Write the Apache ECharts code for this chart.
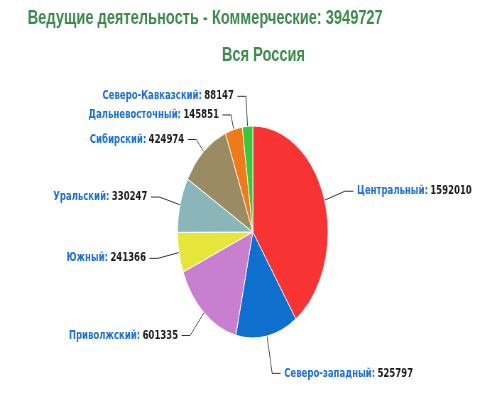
<!DOCTYPE html>
<html><head><meta charset="utf-8">
<script src="https://cdn.jsdelivr.net/npm/echarts@6.0.0/dist/echarts.min.js"></script>
<style>
html,body{margin:0;padding:0;background:#fff;overflow:hidden;width:502px;height:396px}
#c{width:707px;height:396px;transform:scaleX(0.71);transform-origin:0 0;}
</style>
</head><body><div id="c"></div>
<script>
const titleText = 'Ведущие деятельность - Коммерческие: 3949727';
const subtitleText = 'Вся Россия';
const categories = ['Центральный','Северо-западный','Приволжский','Южный','Уральский','Сибирский','Дальневосточный','Северо-Кавказский'];
const values = [1592010,525797,601335,241366,330247,424974,145851,88147];

// styling (kept separate from data)
const colors = ['#f83333','#0f6fcf','#c97fcf','#e6e63a','#8ab5b9','#9a8b63','#ef7a1a','#38c838'];
const connectorLengths = [30,38,30,30,30,16,15,30];

const chart = echarts.init(document.getElementById('c'), null, {renderer:'canvas'});
chart.setOption({
  animation:false,
  color: colors,
  title: [
    {text:titleText, left:34, top:3, textStyle:{fontFamily:'Liberation Sans',fontSize:20.6,fontWeight:'bold',color:'#3c8a4c'}},
    {text:subtitleText, left:366, top:40, textAlign:'center', textStyle:{fontFamily:'Liberation Sans',fontSize:20.6,fontWeight:'bold',color:'#3c8a4c'}}
  ],
  series:[{
    type:'pie',
    center:[356,232],
    radius:[0,106],
    startAngle:90,
    clockwise:true,
    avoidLabelOverlap:true,
    itemStyle:{borderColor:'#fff',borderWidth:1},
    label:{
      show:true, position:'outside',
      formatter:'{n|{b}:} {v|{c}}',
      rich:{
        n:{fontFamily:'DejaVu Sans',fontSize:12,fontWeight:'bold',color:'#1b70d0'},
        v:{fontFamily:'DejaVu Sans',fontSize:12,fontWeight:'bold',color:'#1a1a1a'}
      }
    },
    labelLine:{show:true,length:30,length2:12,lineStyle:{color:'#333',width:1}},
    data: categories.map((n,i)=>({name:n,value:values[i],labelLine:{length:connectorLengths[i]}}))
  }]
});
</script>
</body></html>
